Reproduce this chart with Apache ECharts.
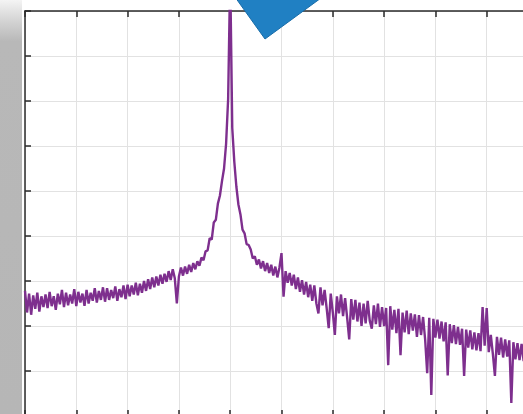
<!DOCTYPE html>
<html>
<head>
<meta charset="utf-8">
<script src="https://cdn.jsdelivr.net/npm/echarts@6/dist/echarts.min.js"></script>
<style>
html,body{margin:0;padding:0;background:#fff;overflow:hidden;}
#chart{width:540px;height:422px;}
</style>
</head>
<body>
<div id="chart"></div>
<script>
// Frequency axis sampling (arbitrary units) and tick grid
const freqStart = 0;
const freqStep = 0.04;
const xTicks = [0, 1, 2, 3, 4, 5, 6, 7, 8, 9, 10];
const yTicks = [0, 1, 2, 3, 4, 5, 6, 7, 8, 9];

// Spectrum values (one per frequency sample)
const power = [
  2.78, 2.30, 2.72, 2.25, 2.68, 2.38, 2.74, 2.32, 2.66, 2.42,
  2.70, 2.40, 2.76, 2.44, 2.66, 2.36, 2.72, 2.48, 2.80, 2.42,
  2.74, 2.46, 2.70, 2.50, 2.82, 2.44, 2.76, 2.52, 2.72, 2.45,
  2.80, 2.50, 2.74, 2.56, 2.84, 2.52, 2.78, 2.58, 2.86, 2.54,
  2.84, 2.58, 2.80, 2.62, 2.88, 2.56, 2.82, 2.64, 2.90, 2.60,
  2.92, 2.66, 2.90, 2.70, 2.96, 2.68, 2.94, 2.74, 3.00, 2.78,
  3.04, 2.82, 3.08, 2.86, 3.10, 2.90, 3.14, 2.94, 3.16, 2.98,
  3.22, 3.02, 3.26, 3.06, 2.50, 3.10, 3.30, 3.12, 3.32, 3.16,
  3.36, 3.20, 3.40, 3.26, 3.44, 3.34, 3.52, 3.46, 3.66, 3.68,
  3.95, 3.92, 4.30, 4.36, 4.72, 4.90, 5.22, 5.50, 6.05, 7.05,
  9.80, 6.40, 5.65, 5.10, 4.70, 4.48, 4.14, 4.06, 3.82, 3.80,
  3.70, 3.50, 3.55, 3.36, 3.48, 3.28, 3.44, 3.22, 3.40, 3.18,
  3.36, 3.12, 3.32, 3.08, 3.30, 3.62, 2.65, 3.22, 2.96, 3.18,
  2.90, 3.14, 2.82, 3.08, 2.76, 3.02, 2.70, 2.98, 2.64, 2.92,
  2.56, 2.90, 2.50, 2.28, 2.86, 2.46, 2.80, 2.40, 1.95, 2.72,
  2.30, 1.80, 2.66, 2.28, 2.70, 2.22, 2.62, 2.18, 1.70, 2.60,
  2.14, 2.58, 2.10, 2.52, 2.00, 2.50, 2.06, 2.56, 2.12, 1.94,
  2.46, 2.04, 2.50, 1.98, 2.42, 2.00, 2.40, 1.13, 2.44, 1.92,
  2.36, 1.84, 2.38, 1.35, 2.30, 1.86, 2.34, 1.82, 2.28, 1.90,
  2.26, 1.76, 2.24, 1.80, 2.20, 1.70, 0.95, 2.18, 0.47, 2.16,
  1.74, 2.14, 1.72, 2.10, 1.66, 2.08, 0.90, 2.04, 1.62, 2.02,
  1.60, 1.98, 1.58, 1.94, 0.89, 1.92, 1.52, 1.90, 1.48, 1.86,
  1.46, 1.84, 1.44, 2.42, 1.56, 2.40, 1.42, 1.80, 1.38, 0.89,
  1.76, 1.36, 1.74, 1.30, 1.70, 1.32, 1.68, 0.29, 1.64, 1.26,
  1.62, 1.24, 1.60, 1.22, 1.58, 1.20, 1.56, 1.24, 1.54, 1.22
];

const seriesData = power.map((v, i) => [freqStart + i * freqStep, v]);

const chart = echarts.init(document.getElementById('chart'), null, {renderer: 'canvas'});

const axisLineStyle = {color: '#2b2b2b', width: 1.5};
const tickStyle = {color: '#2b2b2b', width: 1.5};
const gridLineStyle = {color: '#e2e2e2', width: 1};

const option = {
  animation: false,
  backgroundColor: '#ffffff',
  grid: {left: 25, top: 11, width: 513, height: 405, containLabel: false},
  xAxis: [
    {
      type: 'value', position: 'bottom',
      min: xTicks[0], max: xTicks[xTicks.length - 1], interval: 1,
      axisLine: {show: true, onZero: false, lineStyle: axisLineStyle},
      axisTick: {show: true, inside: true, length: 6, lineStyle: tickStyle},
      axisLabel: {show: false},
      splitLine: {show: true, lineStyle: gridLineStyle}
    },
    {
      type: 'value', position: 'top',
      min: xTicks[0], max: xTicks[xTicks.length - 1], interval: 1,
      axisLine: {show: true, onZero: false, lineStyle: axisLineStyle},
      axisTick: {show: true, inside: true, length: 6, lineStyle: tickStyle},
      axisLabel: {show: false},
      splitLine: {show: false}
    }
  ],
  yAxis: [
    {
      type: 'value', position: 'left',
      min: yTicks[0], max: yTicks[yTicks.length - 1], interval: 1,
      axisLine: {show: true, onZero: false, lineStyle: axisLineStyle},
      axisTick: {show: true, inside: true, length: 6, lineStyle: tickStyle},
      axisLabel: {show: false},
      splitLine: {show: true, lineStyle: gridLineStyle}
    }
  ],
  series: [
    {
      type: 'line',
      xAxisIndex: 0, yAxisIndex: 0,
      data: seriesData,
      showSymbol: false,
      symbol: 'none',
      clip: true,
      sampling: null,
      lineStyle: {color: '#7E2F8E', width: 2.4},
      z: 3
    }
  ],
  graphic: [
    {
      type: 'rect', z: 100,
      shape: {x: 0, y: 0, width: 22, height: 414},
      style: {
        fill: {
          type: 'linear', x: 0, y: 0, x2: 0, y2: 1,
          colorStops: [
            {offset: 0, color: '#f4f4f4'},
            {offset: 0.05, color: '#d4d4d4'},
            {offset: 0.1, color: '#b8b8b8'},
            {offset: 1, color: '#b6b6b6'}
          ]
        }
      }
    },
    {
      type: 'polygon', z: 100,
      shape: {points: [[265, 39], [230, -10], [332, -10]]},
      style: {fill: '#2080c3', stroke: '#186ca8', lineWidth: 1}
    }
  ]
};

chart.setOption(option);
</script>
</body>
</html>
